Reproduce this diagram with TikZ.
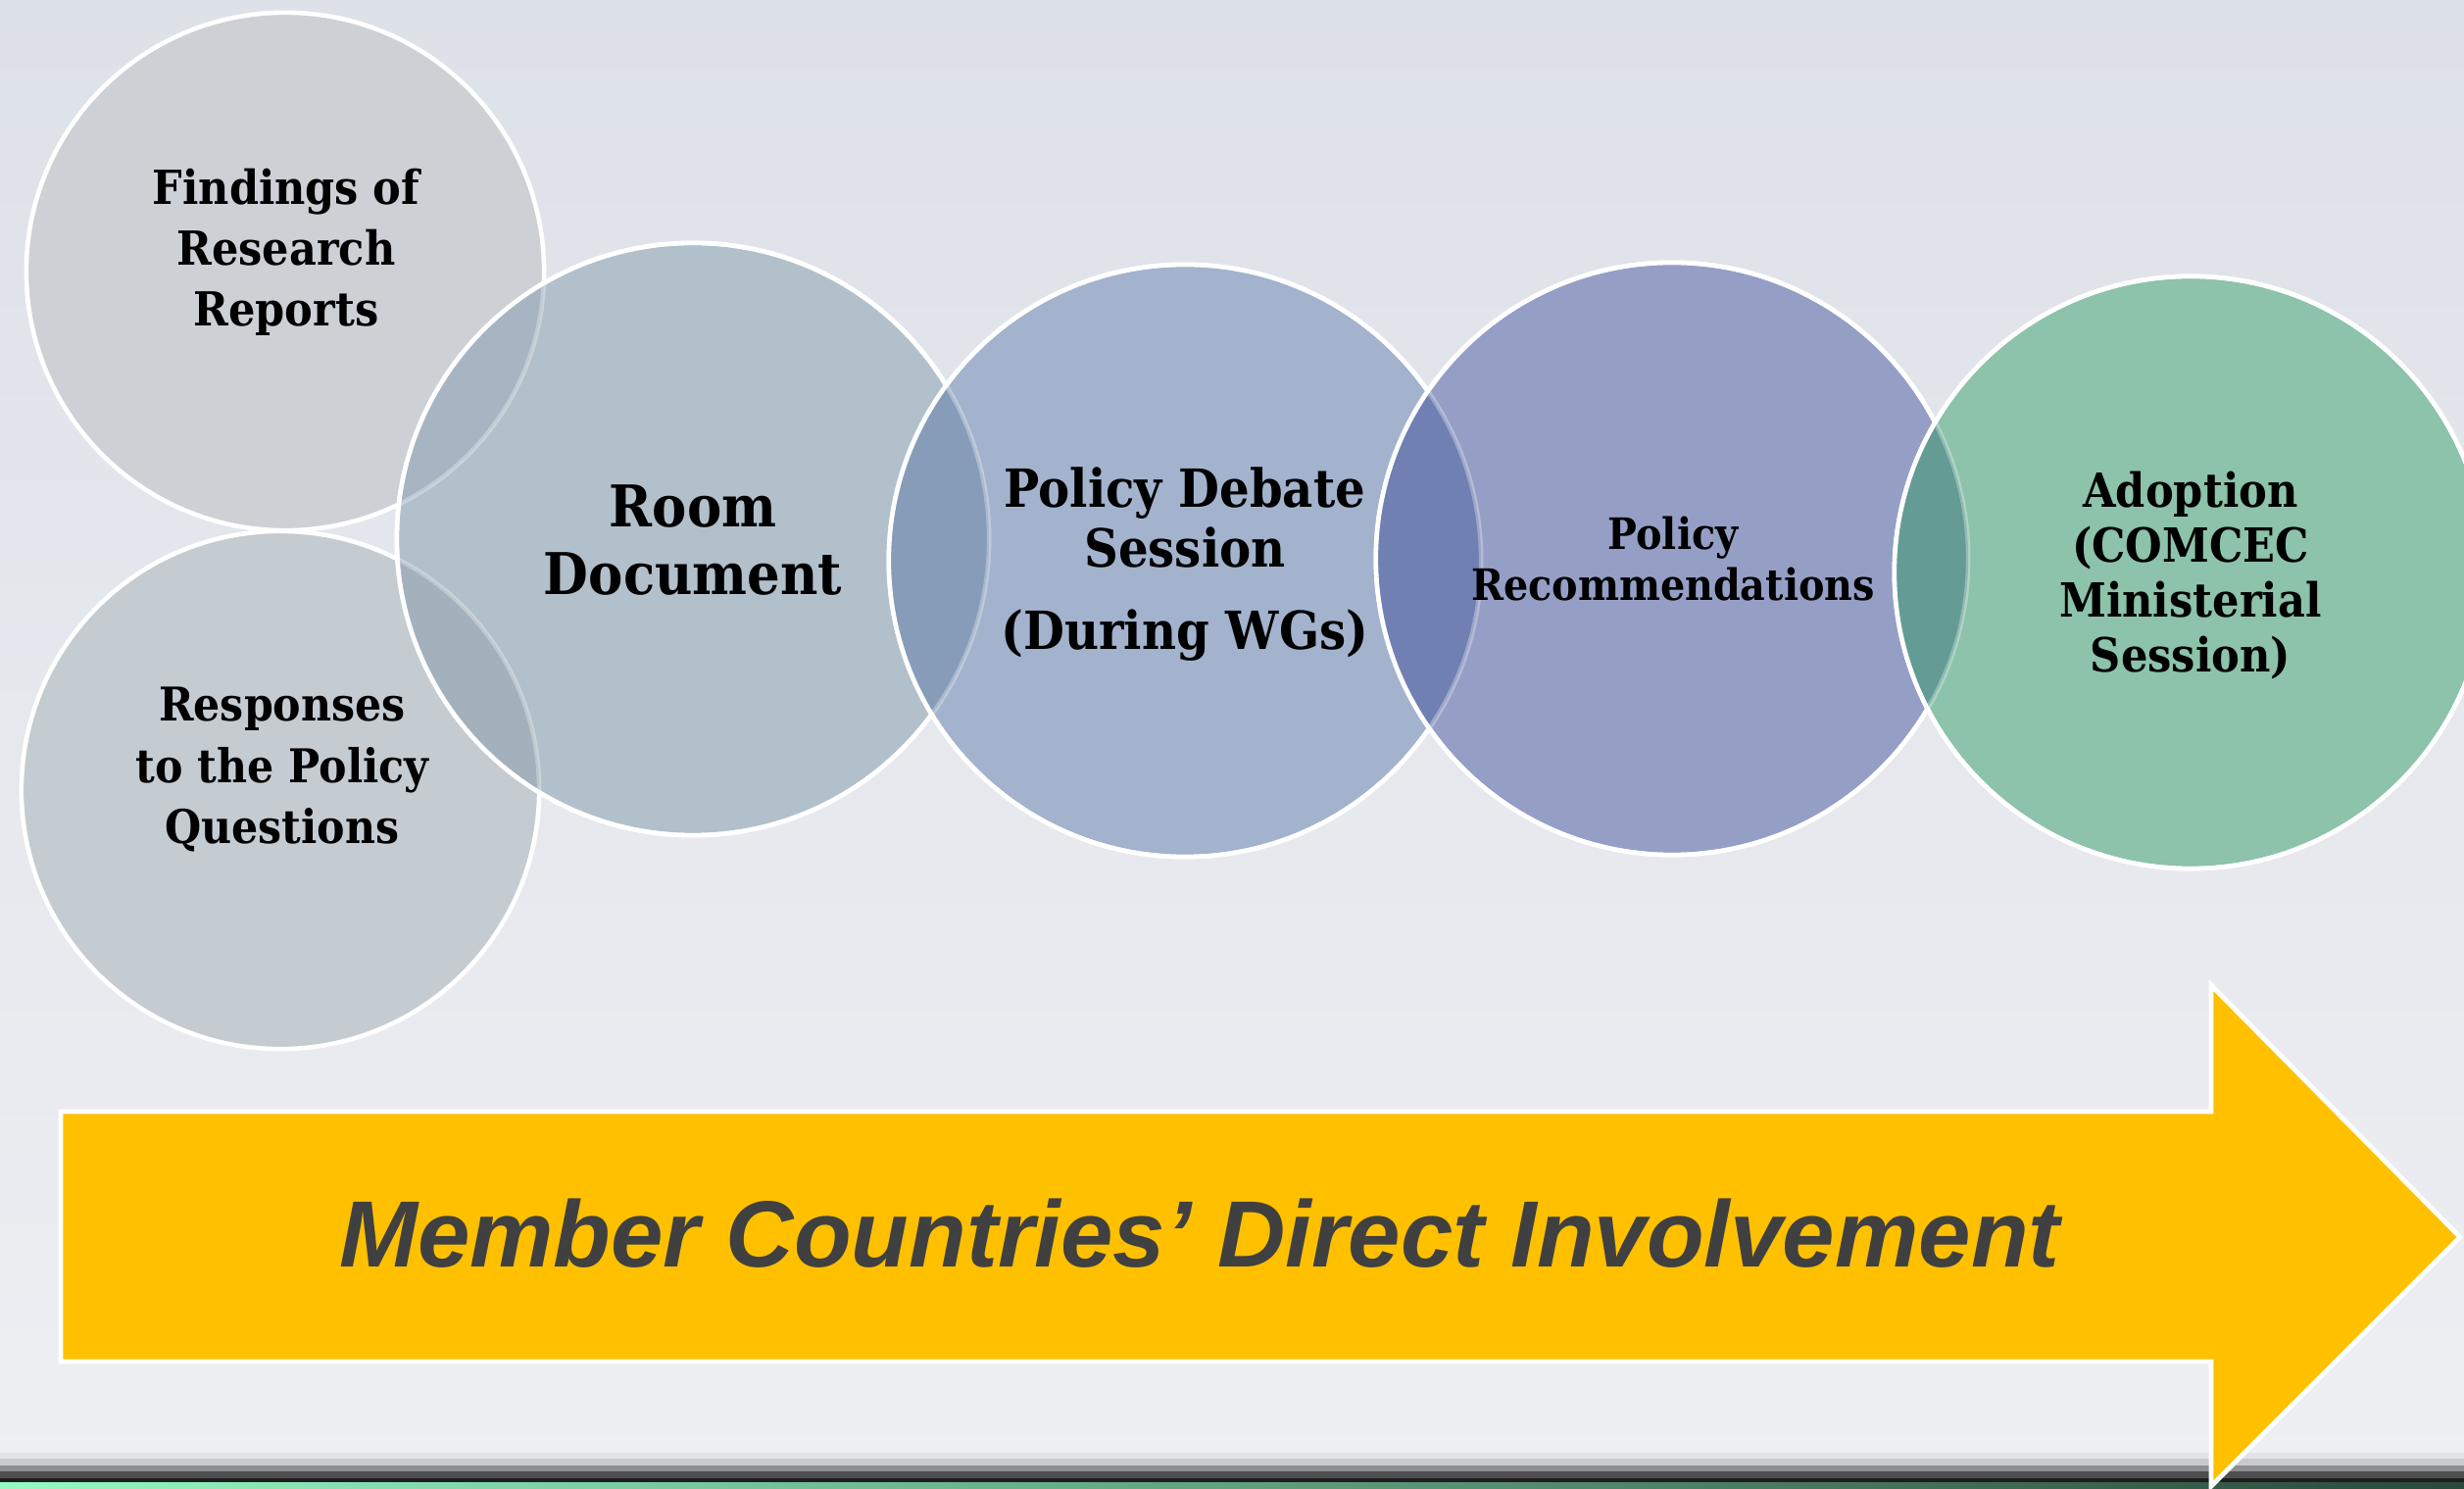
\documentclass[tikz,border=0pt]{standalone}
\usepackage{fontspec}
\setmainfont{DejaVu Serif Condensed}
\newfontfamily\arrowfont{Liberation Sans}
\definecolor{bgtop}{HTML}{DDE1E8}
\definecolor{bgbot}{HTML}{EEEFF3}
\definecolor{cA}{HTML}{CDD0D5}
\definecolor{cB}{HTML}{C4CCD2}
\definecolor{cC}{HTML}{B2C0CB}
\definecolor{cD}{HTML}{A3B3CD}
\definecolor{cE}{HTML}{959FC6}
\definecolor{cF}{HTML}{8CC3AA}
\definecolor{oAC}{HTML}{A6B5C1}
\definecolor{oBC}{HTML}{A3B1BD}
\definecolor{oCD}{HTML}{879CB8}
\definecolor{oDE}{HTML}{7080B3}
\definecolor{oEF}{HTML}{649C95}
\definecolor{arrowfill}{HTML}{FFC000}
\definecolor{arrowtext}{HTML}{404040}
\definecolor{sA}{HTML}{E2E3E6}
\definecolor{sB}{HTML}{C8C9CC}
\definecolor{sC}{HTML}{8E8E90}
\definecolor{sD}{HTML}{4E4E50}
\definecolor{sE}{HTML}{1E1E1E}
\definecolor{gL}{HTML}{96F8C4}
\definecolor{gM}{HTML}{74C096}
\definecolor{gR}{HTML}{2A4A3A}
\begin{document}
\begin{tikzpicture}[x=0.01cm,y=-0.01cm,
  circ/.style={circle, draw=white, line width=1.3pt, inner sep=0pt},
  faint/.style={draw=white, line width=1.3pt, draw opacity=0.3},
  lbl/.style={align=center, text=black, inner sep=0pt}]
\useasboundingbox (0,0) rectangle (2514,1519);
\clip (0,0) rectangle (2514,1519);
% background
\shade[top color=bgtop, bottom color=bgbot] (0,0) rectangle (2514,1519);
% bottom stripes
\fill[sA] (0,1482) rectangle (2514,1488);
\fill[sB] (0,1488) rectangle (2514,1495);
\fill[sC] (0,1495) rectangle (2514,1501);
\fill[sD] (0,1501) rectangle (2514,1508);
\fill[sE] (0,1508) rectangle (2514,1512);
\shade[left color=gL, middle color=gM, right color=gR] (0,1512) rectangle (2514,1519);
% circles
\node[circ, fill=cA, minimum size=5.28cm] (c1) at (291,277) {};
\node[circ, fill=cB, minimum size=5.28cm] (c2) at (286,806) {};
\node[circ, fill=cC, minimum size=6.04cm] (c3) at (707,550) {};
\begin{scope}
  \clip (c3.center) circle[radius=3.02cm];
  \fill[oAC] (c1.center) circle[radius=2.64cm];
  \fill[oBC] (c2.center) circle[radius=2.64cm];
  \draw[faint] (c1.center) circle[radius=2.64cm];
  \draw[faint] (c2.center) circle[radius=2.64cm];
\end{scope}
\draw[white, line width=1.3pt] (c3.center) circle[radius=3.02cm];
\node[circ, fill=cD, minimum size=6.04cm] (c4) at (1209,572) {};
\begin{scope}
  \clip (c4.center) circle[radius=3.02cm];
  \fill[oCD] (c3.center) circle[radius=3.02cm];
  \draw[faint] (c3.center) circle[radius=3.02cm];
\end{scope}
\draw[white, line width=1.3pt] (c4.center) circle[radius=3.02cm];
\node[circ, fill=cE, minimum size=6.04cm] (c5) at (1706,570) {};
\begin{scope}
  \clip (c5.center) circle[radius=3.02cm];
  \fill[oDE] (c4.center) circle[radius=3.02cm];
  \draw[faint] (c4.center) circle[radius=3.02cm];
\end{scope}
\draw[white, line width=1.3pt] (c5.center) circle[radius=3.02cm];
\node[circ, fill=cF, minimum size=6.04cm] (c6) at (2235,584) {};
\begin{scope}
  \clip (c6.center) circle[radius=3.02cm];
  \fill[oEF] (c5.center) circle[radius=3.02cm];
  \draw[faint] (c5.center) circle[radius=3.02cm];
\end{scope}
\draw[white, line width=1.3pt] (c6.center) circle[radius=3.02cm];
% labels
\node[lbl, font=\fontsize{13.6pt}{17.64pt}\selectfont\bfseries] (t1) at (292,257) {Findings of\\Research\\Reports};
\node[lbl, font=\fontsize{13.5pt}{17.78pt}\selectfont\bfseries] (t2) at (288,785) {Responses\\to the Policy\\Questions};
\node[lbl, font=\fontsize{16.7pt}{19.35pt}\selectfont\bfseries] (t3) at (707,551) {Room\\Document};
\node[lbl, font=\fontsize{15.25pt}{17.36pt}\selectfont\bfseries] (t4) at (1209,576) {Policy Debate\\Session\\[6.5pt](During WGs)};
\node[lbl, font=\fontsize{12.55pt}{14.8pt}\selectfont\bfseries] (t5) at (1707,570) {Policy\\Recommendations};
\node[lbl, font=\fontsize{13.65pt}{15.93pt}\selectfont\bfseries] (t6) at (2235,587) {Adoption\\(COMCEC\\Ministerial\\Session)};
% arrow
\coordinate (a1) at (62,1134);
\coordinate (a2) at (2256,1134);
\coordinate (a3) at (2256,1005);
\coordinate (a4) at (2510,1262);
\coordinate (a5) at (2256,1516);
\coordinate (a6) at (2256,1389);
\coordinate (a7) at (62,1389);
\filldraw[fill=arrowfill, draw=white, line width=1.4pt] (a1) -- (a2) -- (a3) -- (a4) -- (a5) -- (a6) -- (a7) -- cycle;
\node[anchor=base, text=arrowtext, inner sep=0pt, font=\arrowfont\fontsize{27.31pt}{32pt}\selectfont\bfseries\itshape] (at) at (1224,1292) {Member Countries’ Direct Involvement};
\end{tikzpicture}
\end{document}
